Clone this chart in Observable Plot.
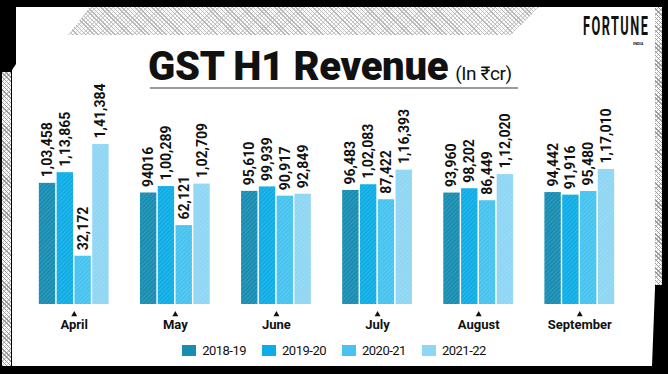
<!DOCTYPE html>
<html>
<head>
<meta charset="utf-8">
<script src="https://cdn.jsdelivr.net/npm/d3@7"></script>
<script src="https://cdn.jsdelivr.net/npm/@observablehq/plot@0.6"></script>
<style>
  html, body { margin: 0; padding: 0; width: 668px; height: 374px; overflow: hidden; background: #000; }
  .abs { position: absolute; }
  #panel { left: 0; top: 0; width: 668px; height: 374px; background: #fff;
    clip-path: polygon(16px 7px, 655px 7px, 655px 288px, 652px 366px, 12px 366px, 12px 70px, 16px 64px); }
  .hatch { background-color: #fff;
    background-image: repeating-linear-gradient(45deg, #9a9a9a 0 1px, transparent 1px 3px),
                      repeating-linear-gradient(-45deg, #c8c8c8 0 1px, transparent 1px 3px); }
  #tophatch { left: 0; top: 0; width: 668px; height: 374px;
    clip-path: polygon(90px 7px, 539px 7px, 511px 35px, 68px 35px); opacity: 0.7; }
  #lefthatch { left: 2px; top: 72px; width: 9px; height: 294px; }
  #righthatch { left: 655px; top: 7px; width: 7px; height: 278px; }
  #title { left: 148px; top: 47px; display: flex; align-items: baseline; gap: 7px; white-space: nowrap; }
  #title .main { font: 900 40px Roboto, "Liberation Sans", sans-serif; color: #111; letter-spacing: -0.3px; line-height: 40px; }
  #title .unit { font: 400 19px Roboto, sans-serif; color: #111; letter-spacing: -0.4px; }
  #rule { left: 150px; top: 87px; width: 368px; height: 2px; background: #9a9a9a; }
  #logo { left: 583px; top: 15px; font: 700 26px Roboto, sans-serif; letter-spacing: 3px;
    line-height: 22px; transform: scaleX(0.49); transform-origin: 0 0; color: #111; white-space: nowrap; }
  #india { left: 633px; top: 42px; font: 700 4px Roboto, sans-serif; line-height: 4px; color: #111; }
  #chart { left: 0; top: 70px; line-height: 0; }
  #legend { left: 0; top: 343px; width: 668px; display: flex; justify-content: center; gap: 16px;
    font: 400 13px Roboto, sans-serif; letter-spacing: -0.5px; color: #111; }
  #legend .item { display: flex; align-items: center; gap: 6px; }
  #legend .sw { width: 14px; height: 11px; display: inline-block; }
</style>
</head>
<body>
<div id="panel" class="abs"></div>
<div id="tophatch" class="abs hatch"></div>
<div id="lefthatch" class="abs hatch"></div>
<div id="righthatch" class="abs hatch"></div>
<div id="logo" class="abs">FORTUNE</div>
<div id="india" class="abs">INDIA</div>
<div id="title" class="abs"><span class="main">GST H1 Revenue</span><span class="unit">(In ₹cr)</span></div>
<div id="rule" class="abs"></div>
<div id="chart" class="abs"></div>
<div id="legend" class="abs"></div>
<script>
const months = ["April", "May", "June", "July", "August", "September"];
const years = ["2018-19", "2019-20", "2020-21", "2021-22"];
const v2018_19 = [103458, 94016, 95610, 96483, 93960, 94442];
const v2019_20 = [113865, 100289, 99939, 102083, 98202, 91916];
const v2020_21 = [32172, 62121, 90917, 87422, 86449, 95480];
const v2021_22 = [141384, 102709, 92849, 116393, 112020, 117010];
const l2018_19 = ["1,03,458", "94016", "95,610", "96,483", "93,960", "94,442"];
const l2019_20 = ["1,13,865", "1,00,289", "99,939", "1,02,083", "98,202", "91,916"];
const l2020_21 = ["32,172", "62,121", "90,917", "87,422", "86,449", "95,480"];
const l2021_22 = ["1,41,384", "1,02,709", "92,849", "1,16,393", "1,12,020", "1,17,010"];
const colors = ["#188db1", "#0fade6", "#47c3ef", "#8fd6f4"];
const baseValue = -15000;
const topValue = 160000;
const tickMarkValue = -24800;

const seriesValues = [v2018_19, v2019_20, v2020_21, v2021_22];
const seriesLabels = [l2018_19, l2019_20, l2020_21, l2021_22];
const rows = [];
months.forEach((m, i) => years.forEach((yr, j) => {
  rows.push({month: m, year: yr, value: seriesValues[j][i], label: seriesLabels[j][i]});
}));

const chart = Plot.plot({
  width: 668,
  height: 270,
  marginTop: 55,
  marginBottom: 36,
  marginLeft: 7.5,
  marginRight: 22.5,
  style: {background: "transparent", overflow: "visible"},
  fx: {domain: months, paddingInner: 0.31, paddingOuter: 0.31, round: false, axis: null, label: null},
  x: {domain: years, paddingInner: 0.08, paddingOuter: 0, round: false, axis: null},
  y: {domain: [baseValue, topValue], axis: null},
  color: {domain: years, range: colors},
  marks: [
    Plot.rectY(rows, {fx: "month", x: "year", y1: baseValue, y2: "value", fill: "year"}),
    Plot.rectY(rows, {fx: "month", x: "year", y1: baseValue, y2: "value", fill: "url(#bartex)"}),
    Plot.text(rows, {fx: "month", x: "year", y: "value", text: "label", rotate: -90, textAnchor: "start",
      dy: -6, fill: "#111", fontSize: 14, fontWeight: 700, fontFamily: "Roboto, sans-serif"}),
    Plot.dot(months, {fx: d => d, y: () => tickMarkValue, symbol: "triangle", r: 2.2, fill: "#111", stroke: null}),
    Plot.axisFx({anchor: "bottom", tickSize: 0, tickPadding: 15, label: null, fontSize: 13, fontWeight: 700,
      fontFamily: "Roboto, sans-serif", fill: "#111"})
  ]
});
// subtle texture used by the bars
const ns = "http://www.w3.org/2000/svg";
const defs = document.createElementNS(ns, "defs");
const pat = document.createElementNS(ns, "pattern");
pat.setAttribute("id", "bartex");
pat.setAttribute("width", "3");
pat.setAttribute("height", "3");
pat.setAttribute("patternUnits", "userSpaceOnUse");
pat.setAttribute("patternTransform", "rotate(45)");
const pr = document.createElementNS(ns, "rect");
pr.setAttribute("width", "1");
pr.setAttribute("height", "3");
pr.setAttribute("fill", "rgba(255,255,255,0.12)");
pat.appendChild(pr);
defs.appendChild(pat);
chart.insertBefore(defs, chart.firstChild);
document.getElementById("chart").appendChild(chart);

const legend = document.getElementById("legend");
years.forEach((yr, j) => {
  const item = document.createElement("div");
  item.className = "item";
  const sw = document.createElement("span");
  sw.className = "sw";
  sw.style.background = colors[j];
  const t = document.createElement("span");
  t.textContent = yr;
  item.appendChild(sw);
  item.appendChild(t);
  legend.appendChild(item);
});
</script>
</body>
</html>
